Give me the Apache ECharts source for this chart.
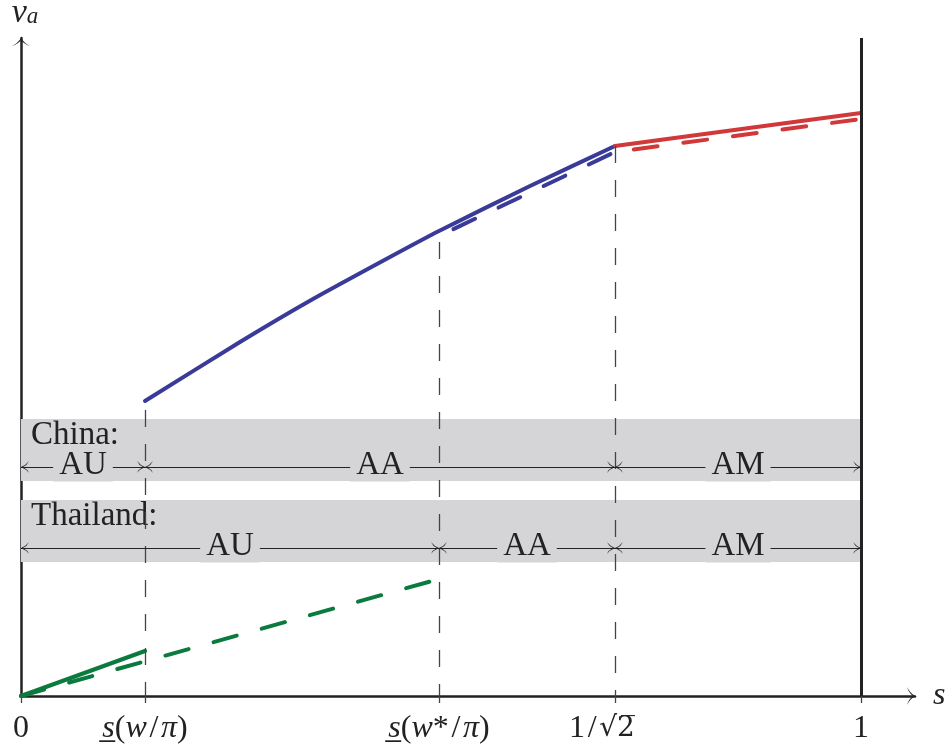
<!DOCTYPE html>
<html><head><meta charset="utf-8">
<script src="https://cdn.jsdelivr.net/npm/echarts@6.0.0/dist/echarts.min.js"></script>
<style>html,body{margin:0;padding:0;background:#fff}#c{width:947px;height:752px}</style>
</head><body><div id="c"></div><script>
// ---------------- data ----------------
const S_LOW = 0.1476;      // s(w/pi)
const S_STAR = 0.4976;     // s(w*/pi)
const INV_SQRT2 = 0.7071;  // 1/sqrt(2)
const xTickValues = [0, S_LOW, S_STAR, INV_SQRT2, 1];
const xTickLabels = ['0', 's(w/π)', 's(w*/π)', '1/√2', '1'];

const greenSolid  = [[0, 0], [S_LOW, 0.45]];
const greenDashed = [[0, 0], [S_STAR, 1.17]];
const blueSolid   = [[S_LOW, 2.95], [0.2607, 3.54], [0.3476, 3.97], [0.4393, 4.39], [S_STAR, 4.65], [0.6060, 5.10], [INV_SQRT2, 5.50]];
const blueDashed  = [[S_STAR, 4.60], [INV_SQRT2, 5.44]];
const redSolid    = [[INV_SQRT2, 5.50], [1, 5.83]];
const redDashed   = [[INV_SQRT2, 5.44], [1, 5.77]];

const guideTops = [[S_LOW, 2.86], [S_STAR, 4.54], [INV_SQRT2, 5.50]];
const rightEdge = [[1, 0], [1, 6.58]];

const countries    = ['China:', 'Thailand:'];
const bandRanges   = [[2.15, 2.77], [1.34, 1.96]];
const arrowRowY    = [2.29, 1.48];
const regimeBounds = [[0, S_LOW, INV_SQRT2, 1], [0, S_STAR, INV_SQRT2, 1]];
const regimeLabels = [['AU', 'AA', 'AM'], ['AU', 'AA', 'AM']];

// ---------------- styling ----------------
const SERIF = '"Liberation Serif", "DejaVu Serif", serif';
const INK = '#222';
const BAND = '#d5d5d7';
const BLUE = '#3a3a98', RED = '#d0383a', GREEN = '#0b7a3f';
const X_MAX = 1.0643, Y_MAX = 6.58;

const AXIS_ARROW = 'path://M0,0 M18,16 M0,16 Q6,13 9,8 Q12,13 18,16 Q12,14.2 9,10 Q6,14.2 0,16 Z';
const DIM_ARROW  = 'path://M0,0 M16,16 M2,16 Q6,13 8,8 Q10,13 14,16 Q10,14.3 8,10 Q6,14.3 2,16 Z';

function toRich(t, v) {
  let out = '';
  for (let k = 0; k < t.length; k++) {
    const c = t[k];
    if (c === 's') out += '{i|s\u0332}';
    else if (c === 'w' || c === 'π') out += '{i|' + c + '}';
    else if (c === '/') out += '{n|\u200a/\u200a}';
    else if (c === '√' && t[k + 1] === '2') { out += '{r|√2\u0305}'; k++; }
    else out += '{n|' + c + '}';
  }
  if (Math.abs(v - INV_SQRT2) < 1e-6) out += '{pad|}';
  return out;
}

function lineSeries(data, color, dashed, dashOffset, smooth) {
  return {
    type: 'line', data: data, symbol: 'none', showSymbol: false,
    smooth: smooth || false,
    silent: true, z: 4, animation: false,
    lineStyle: { color: color, width: 4, cap: 'round', join: 'round',
      type: dashed ? [24, 26] : 'solid', dashOffset: dashOffset || 0 }
  };
}

const markAreaData = countries.map((name, i) => [
  { coord: [0, bandRanges[i][1]], name: name },
  { coord: [1, bandRanges[i][0]] }
]);

const guideLines = guideTops.map(p => [{ coord: [p[0], p[1]] }, { coord: [p[0], 0] }]);

const dimLines = [];
const dimLabels = [];
regimeBounds.forEach((b, r) => {
  for (let k = 0; k < b.length - 1; k++) {
    dimLines.push([{ coord: [b[k], arrowRowY[r]] }, { coord: [b[k + 1], arrowRowY[r]] }]);
    dimLabels.push({ x: (b[k] + b[k + 1]) / 2, y: arrowRowY[r], text: regimeLabels[r][k] });
  }
});

const option = {
  animation: false,
  backgroundColor: '#fff',
  grid: { left: 21, right: 32, top: 38, bottom: 56, containLabel: false, outerBoundsMode: 'none' },
  xAxis: {
    type: 'value', min: 0, max: X_MAX,
    name: 's', nameLocation: 'end', nameGap: 18,
    nameTextStyle: { fontFamily: SERIF, fontStyle: 'italic', fontSize: 32, color: INK, padding: [0, 0, 8, 0] },
    axisLine: { show: true, onZero: false, lineStyle: { color: INK, width: 2.5 },
      symbol: ['none', AXIS_ARROW], symbolSize: [18, 16] },
    axisTick: { show: true, inside: false, length: 7, customValues: xTickValues, lineStyle: { color: '#444', width: 1.3 } },
    axisLabel: {
      show: true, customValues: xTickValues, margin: 17,
      formatter: function (v) {
        const idx = xTickValues.findIndex(t => Math.abs(t - v) < 1e-6);
        return idx < 0 ? '' : toRich(xTickLabels[idx], v);
      },
      rich: {
        n: { fontFamily: SERIF, fontSize: 32, color: INK },
        i: { fontFamily: SERIF, fontSize: 32, color: INK, fontStyle: 'italic' },
        r: { fontFamily: '"DejaVu Serif", serif', fontSize: 28, color: INK },
        pad: { width: 26 }
      }
    },
    splitLine: { show: false }
  },
  yAxis: {
    type: 'value', min: 0, max: Y_MAX,
    name: '{v|v}{a|a}', nameLocation: 'end', nameGap: 10,
    nameTextStyle: {
      padding: [0, 0, 0, 8],
      rich: {
        v: { fontFamily: SERIF, fontStyle: 'italic', fontSize: 34, color: INK, lineHeight: 32, verticalAlign: 'top' },
        a: { fontFamily: SERIF, fontStyle: 'italic', fontSize: 23, color: INK, lineHeight: 22, verticalAlign: 'bottom', padding: [12, 0, 0, 0] }
      }
    },
    axisLine: { show: true, onZero: false, lineStyle: { color: INK, width: 2.5 },
      symbol: ['none', AXIS_ARROW], symbolSize: [18, 16] },
    axisTick: { show: false }, axisLabel: { show: false }, splitLine: { show: false }
  },
  series: [
    {
      type: 'line', data: [], symbol: 'none', silent: true, z: 1,
      markArea: {
        silent: true,
        itemStyle: { color: BAND, opacity: 1 },
        label: { show: true, position: 'insideTopLeft', distance: 0, offset: [10, 0],
          formatter: '{b}', fontFamily: SERIF, fontSize: 33, color: INK },
        data: markAreaData
      }
    },
    {
      type: 'line', data: [], symbol: 'none', silent: true, z: 2,
      markLine: {
        silent: true, symbol: ['none', 'none'], animation: false,
        label: { show: false },
        lineStyle: { color: '#444', width: 1.3, type: [17, 17] },
        data: guideLines
      }
    },
    {
      type: 'line', data: [], symbol: 'none', silent: true, z: 2,
      markLine: {
        silent: true, symbol: ['none', 'none'], animation: false,
        label: { show: false },
        lineStyle: { color: INK, width: 3, type: 'solid' },
        data: [[{ coord: rightEdge[0] }, { coord: rightEdge[1] }]]
      }
    },
    {
      type: 'line', data: [], symbol: 'none', silent: true, z: 3,
      markLine: {
        silent: true, symbol: [DIM_ARROW, DIM_ARROW], symbolSize: 16, animation: false,
        label: { show: false },
        lineStyle: { color: INK, width: 1.1, type: 'solid' },
        data: dimLines
      }
    },
    {
      type: 'custom', coordinateSystem: 'cartesian2d', silent: true, z: 6,
      data: dimLabels.map(d => [d.x, d.y]),
      renderItem: function (params, api) {
        const p = api.coord([api.value(0), api.value(1)]);
        return {
          type: 'text', x: p[0], y: p[1] - 2,
          style: {
            text: dimLabels[params.dataIndex].text,
            align: 'center', verticalAlign: 'middle',
            font: '33px "Liberation Serif", serif', fill: INK,
            backgroundColor: BAND, padding: [0, 6]
          }
        };
      }
    },
    lineSeries(greenSolid, GREEN, false),
    lineSeries(greenDashed, GREEN, true, 0),
    lineSeries(blueSolid, BLUE, false, 0, 0.2),
    lineSeries(blueDashed, BLUE, true, 34),
    lineSeries(redSolid, RED, false),
    lineSeries(redDashed, RED, true, 31)
  ]
};

const chart = echarts.init(document.getElementById('c'));
chart.setOption(option);
</script></body></html>
